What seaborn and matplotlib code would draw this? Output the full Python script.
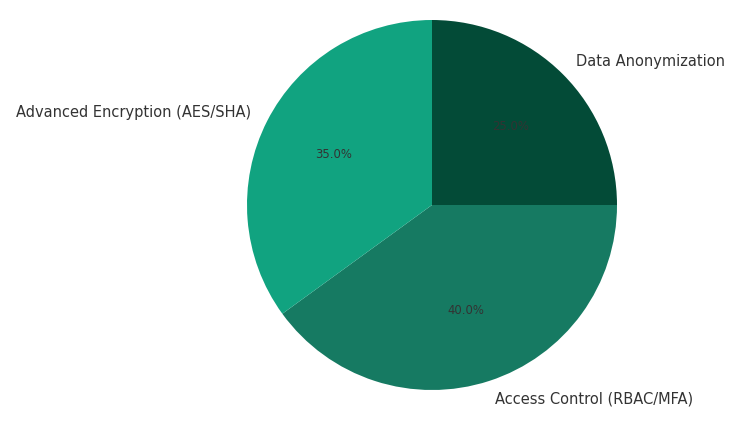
import matplotlib
matplotlib.use("Agg")
import matplotlib.pyplot as plt
import seaborn as sns

labels = ["Data Anonymization", "Access Control (RBAC/MFA)", "Advanced Encryption (AES/SHA)"]
shares = [25.0, 40.0, 35.0]
colors = ["#034b37", "#167a62", "#11a380"]

sns.set_theme(style="white")
plt.rcParams['font.family'] = ['DejaVu Sans']

fig = plt.figure(figsize=(7.47, 4.21), dpi=100)
ax = fig.add_axes([0, 0, 1, 1])

wedges, texts, autotexts = ax.pie(
    shares, labels=labels, colors=colors, autopct='%1.1f%%',
    startangle=90, counterclock=False,
    wedgeprops={'linewidth': 0, 'edgecolor': 'none'},
    textprops={'color': '#333333', 'fontsize': 10.5})
for t in autotexts:
    t.set_fontsize(8.4)
    t.set_color('#333333')

# place the pie: centre at (432, 205) px, radius 185 px
r = 185.0
ax.set_xlim(-432 / r, (747 - 432) / r)
ax.set_ylim(-(421 - 205) / r, 205 / r)
ax.set_aspect('equal')
ax.axis('off')

fig.savefig('out.png', dpi=100)
